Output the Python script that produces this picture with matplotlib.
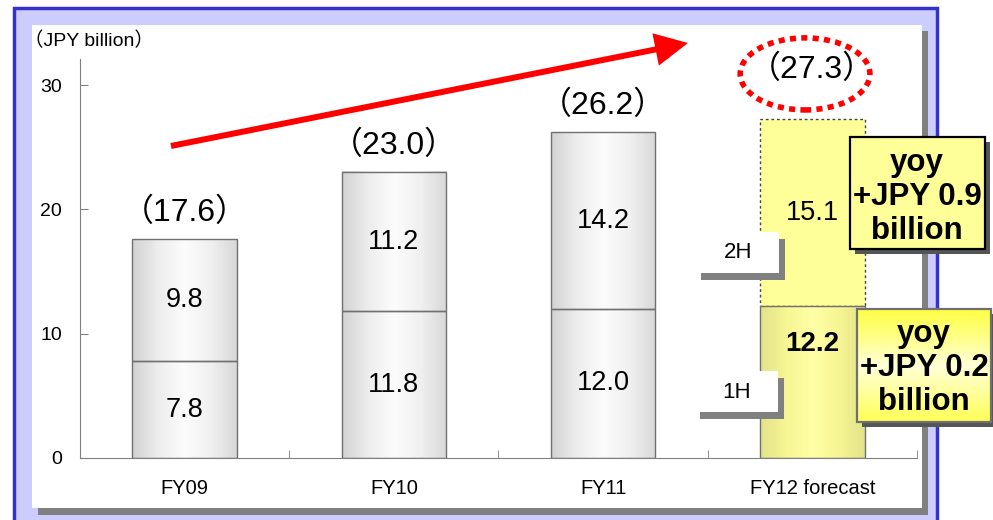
# Net sales by half-year, FY09 - FY12 forecast

import numpy as np
import matplotlib
matplotlib.use("Agg")
import matplotlib.pyplot as plt
from matplotlib.patches import Rectangle, Ellipse, FancyArrow
from matplotlib.colors import LinearSegmentedColormap

plt.rcParams['font.family'] = ['Liberation Sans', 'Noto Sans CJK JP', 'DejaVu Sans']

# Datos

Categorias = ["FY09", "FY10", "FY11", "FY12 forecast"]
Primer_Semestre = [7.8, 11.8, 12.0, 12.2]
Segundo_Semestre = [9.8, 11.2, 14.2, 15.1]
Totales = [17.6, 23.0, 26.2, 27.3]
Yoy_Textos = ["yoy\n+JPY 0.9\nbillion", "yoy\n+JPY 0.2\nbillion"]

W, H = 993, 520
fig = plt.figure(figsize=(W / 100, H / 100), dpi=100)

# Fondo (coordenadas en pixeles)

bg = fig.add_axes([0, 0, 1, 1], zorder=0)
bg.set_xlim(0, W)
bg.set_ylim(H, 0)
bg.axis("off")
bg.add_patch(Rectangle((14, 8), 923, 530, facecolor="#CCCCFF", edgecolor="#3333CC", lw=2.5))
bg.add_patch(Rectangle((38, 31), 890, 484, facecolor="#808080", edgecolor="none"))
bg.add_patch(Rectangle((32, 25), 890, 483, facecolor="white", edgecolor="none"))
bg.text(24, 41, "（JPY billion）", fontsize=14, va="center", ha="left")

# Grafica principal

y0_px, ytop_px = 458, 59
ax = fig.add_axes([80 / W, (H - y0_px) / H, 837 / W, (y0_px - ytop_px) / H], zorder=1)
ax.set_facecolor("none")
ax.set_xlim(-0.5, 3.5)
ax.set_ylim(0, 32.1)

x = np.arange(len(Categorias))
ancho = 0.5

gris = LinearSegmentedColormap.from_list("gris", ["#D2D2D2", "#EDEDED", "#FCFCFC", "#F0F0F0", "#D8D8D8"])
amarillo = LinearSegmentedColormap.from_list("amarillo", ["#E2E28A", "#F6F694", "#FFFFA6", "#F6F694", "#E2E28A"])
grad = np.linspace(0, 1, 256).reshape(1, -1)

b1 = ax.bar(x, Primer_Semestre, ancho, facecolor="none", edgecolor="#707070", lw=1, zorder=3)
b2 = ax.bar(x, Segundo_Semestre, ancho, bottom=Primer_Semestre, facecolor="none",
            edgecolor="#707070", lw=1, zorder=3)

for i, (p1, p2) in enumerate(zip(b1, b2)):
    for p in (p1, p2):
        x0, yb, w, h = p.get_x(), p.get_y(), p.get_width(), p.get_height()
        if i == 3 and p is p2:
            # segundo semestre pronosticado: relleno plano y borde punteado
            p.set_facecolor("#FFFF99")
            p.set_edgecolor("#444444")
            p.set_linestyle((0, (2, 2)))
            p.set_zorder(2)
            continue
        cm = amarillo if i == 3 else gris
        ax.imshow(grad, cmap=cm, extent=(x0, x0 + w, yb, yb + h), aspect="auto", zorder=2)

ax.set_xlim(-0.5, 3.5)
ax.set_ylim(0, 32.1)

# Etiquetas de valores

for i in range(len(Categorias)):
    if i == 3:
        # el pronostico lleva la etiqueta en negrita y mas arriba
        ax.text(x[i], Primer_Semestre[i] * 0.75, f"{Primer_Semestre[i]:.1f}", ha="center", va="center",
                fontsize=20, fontweight="bold", zorder=5)
    else:
        ax.text(x[i], Primer_Semestre[i] / 2, f"{Primer_Semestre[i]:.1f}", ha="center", va="center",
                fontsize=19.5, zorder=5)
    ax.text(x[i], Primer_Semestre[i] + Segundo_Semestre[i] / 2, f"{Segundo_Semestre[i]:.1f}",
            ha="center", va="center", fontsize=19.5, zorder=5)
    off = 35 if i == 3 else 19
    ax.annotate(f"（{Totales[i]:.1f}）", (x[i], Totales[i]), xytext=(0, off), textcoords="offset points",
                ha="center", va="center", fontsize=23, zorder=5)

# Circulo punteado en el pronostico
ax.add_patch(Ellipse((2.965, 30.9), 0.62, 5.8, facecolor="none", edgecolor="red", lw=4,
                     linestyle=(0, (1.1, 0.95)), clip_on=False, zorder=6))

# Ejes

for s in ["top", "right"]:
    ax.spines[s].set_visible(False)
ax.spines["left"].set_color("#808080")
ax.spines["bottom"].set_color("#808080")
ax.set_yticks([0, 10, 20, 30])
ax.set_yticklabels(["0", "10", "20", "30"], fontsize=14)
ax.tick_params(axis="y", direction="in", length=6, color="#808080", pad=13)
ax.set_xticks(x)
ax.set_xticklabels(Categorias, fontsize=14.5)
ax.tick_params(axis="x", length=0, pad=15)
ax.set_xticks(np.arange(-0.5, 4.0, 1.0), minor=True)
ax.tick_params(axis="x", which="minor", direction="in", length=6, color="#808080")

# Capa superior: flecha, semestres y cajas yoy

ov = fig.add_axes([0, 0, 1, 1], zorder=2)
ov.set_xlim(0, W)
ov.set_ylim(H, 0)
ov.axis("off")

ov.add_patch(FancyArrow(171, 146, 517, -103, width=6, head_width=33, head_length=33,
                        length_includes_head=True, color="red", lw=0))

for (bx, by, txt) in [(695, 232, "2H"), (694, 371, "1H")]:
    ov.add_patch(Rectangle((bx + 6, by + 7), 84, 41, facecolor="#808080", edgecolor="none"))
    ov.add_patch(Rectangle((bx, by), 84, 41, facecolor="white", edgecolor="none"))
    ov.text(bx + 43, by + 21, txt, ha="center", va="center", fontsize=16)

# Caja yoy superior
ov.add_patch(Rectangle((855, 142), 135, 112, facecolor="#555555", edgecolor="none"))
ov.add_patch(Rectangle((850, 137), 135, 112, facecolor="#FFFF99", edgecolor="black", lw=1.6))
ov.text(917, 197, Yoy_Textos[0], ha="center", va="center", fontsize=22.5, fontweight="bold",
        linespacing=1.17)

# Caja yoy inferior con degradado
ov.add_patch(Rectangle((862, 314), 134, 113, facecolor="#555555", edgecolor="none"))
vgrad = np.linspace(0, 1, 256).reshape(-1, 1)
caja = LinearSegmentedColormap.from_list("caja", ["#FFFF44", "#FFFF88", "#FFFFD8", "#FFFF99", "#FFFF55"])
ov.imshow(vgrad, cmap=caja, extent=(857, 991, 422, 309), aspect="auto", zorder=1)
ov.add_patch(Rectangle((857, 309), 134, 113, facecolor="none", edgecolor="#707070", lw=1.6, zorder=2))
ov.text(924, 368, Yoy_Textos[1], ha="center", va="center", fontsize=22.5, fontweight="bold",
        linespacing=1.17, zorder=3)
ov.set_xlim(0, W)
ov.set_ylim(H, 0)

fig.savefig("out.png", dpi=100)
